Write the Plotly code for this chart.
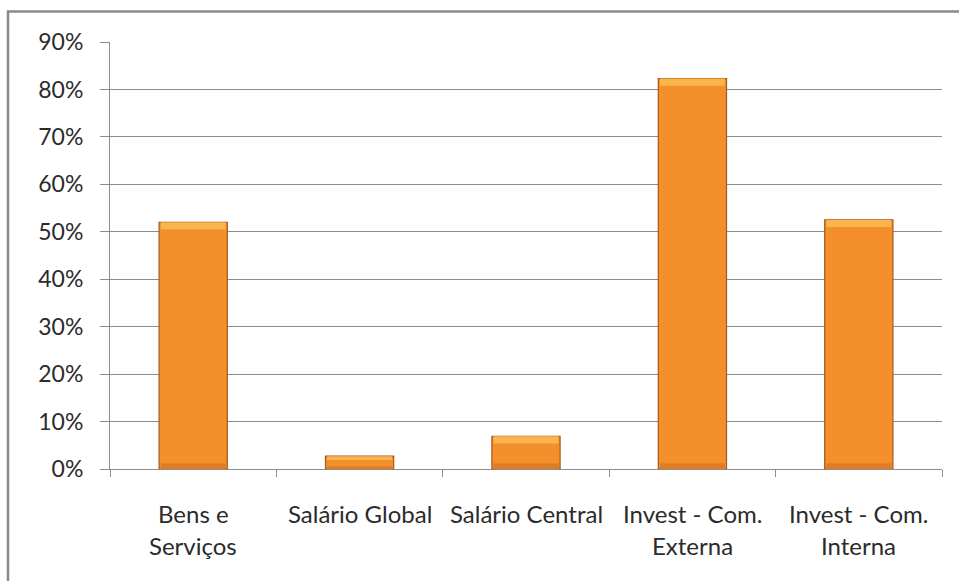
import plotly.graph_objects as go

categories = ["Bens e<br>Serviços", "Salário Global", "Salário Central",
              "Invest - Com.<br>Externa", "Invest - Com.<br>Interna"]
values = [0.52, 0.027, 0.069, 0.823, 0.525]
y_ticks = [0, 0.1, 0.2, 0.3, 0.4, 0.5, 0.6, 0.7, 0.8, 0.9]

FONT = "Lato, Noto Sans, sans-serif"
GRID = "#8c8c8c"
TXT = "#2b2b2b"

band_top = [min(0.015, v * 0.3) for v in values]
band_bot = [min(0.012, v * 0.2) for v in values]

fig = go.Figure()
fig.add_trace(go.Bar(
    x=categories, y=values, width=0.41,
    marker=dict(color="#F3902C", line=dict(color="#A85818", width=1.2)),
    hoverinfo="x+y",
))
# bottom shade
fig.add_trace(go.Bar(
    x=categories, y=band_bot, width=0.39,
    marker=dict(color="#E07C24", line=dict(width=0)),
    hoverinfo="skip",
))
# top bevel highlight
fig.add_trace(go.Bar(
    x=categories, y=band_top,
    base=[v - b for v, b in zip(values, band_top)], width=0.39,
    marker=dict(color="#FCB44C", line=dict(width=0)),
    hoverinfo="skip",
))

annotations = []
for c in categories:
    lines = c.split("<br>")
    for i, ln in enumerate(lines):
        annotations.append(dict(
            x=c, xref="x", y=-0.105 - i * 0.075, yref="paper",
            text=ln, showarrow=False, yanchor="middle",
            font=dict(family=FONT, size=24, color=TXT),
        ))

fig.update_layout(
    width=959, height=581,
    margin=dict(l=110, r=17, t=42, b=112),
    paper_bgcolor="white", plot_bgcolor="white",
    barmode="overlay", showlegend=False, bargap=0.59,
    font=dict(family=FONT, size=23, color=TXT),
    annotations=annotations,
    shapes=[dict(type="rect", xref="paper", yref="paper",
                 x0=-0.1226, x1=1.2, y0=-0.5, y1=1.0715,
                 line=dict(color="#8a8a8a", width=2.5), fillcolor="rgba(0,0,0,0)",
                 layer="below")],
)
fig.update_yaxes(
    range=[0, 0.9], tickvals=y_ticks, tickformat=".0%",
    showgrid=True, gridcolor=GRID, gridwidth=1,
    showline=True, linecolor=GRID, linewidth=1,
    ticks="outside", ticklen=9, tickcolor=GRID,
    ticklabelstandoff=12, zeroline=False,
    tickfont=dict(family=FONT, size=23, color=TXT),
)
fig.update_xaxes(
    showticklabels=False, showline=True, linecolor=GRID, linewidth=1,
    ticks="outside", tickson="boundaries", ticklen=7, tickcolor=GRID,
)

fig.write_html("out.html", config={"displayModeBar": False},
               post_script="document.body.style.margin='0';")
